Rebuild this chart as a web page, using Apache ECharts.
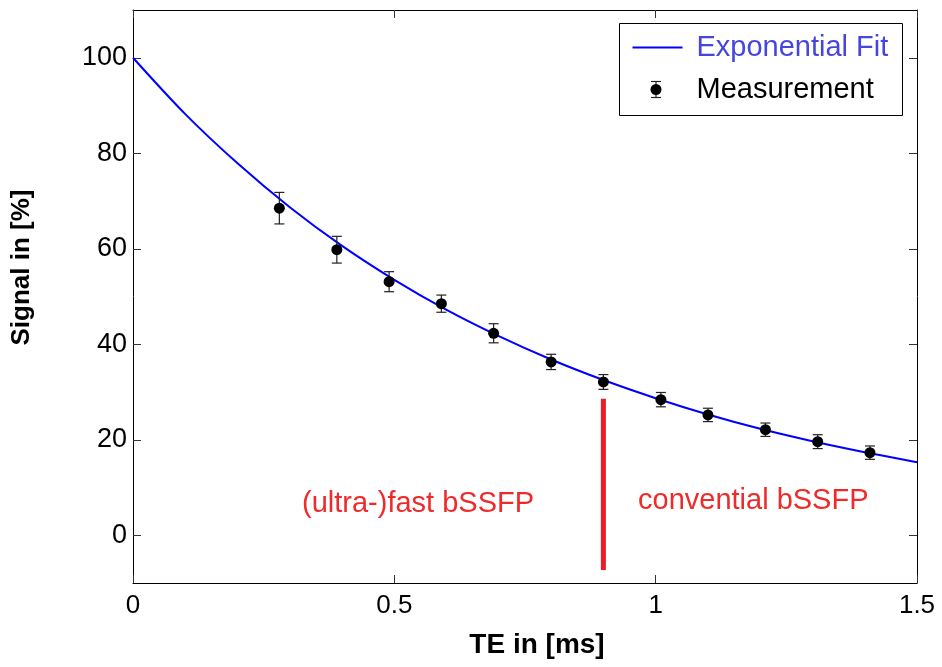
<!DOCTYPE html>
<html>
<head>
<meta charset="utf-8">
<script src="https://cdn.jsdelivr.net/npm/echarts@6/dist/echarts.min.js"></script>
<style>
html,body{margin:0;padding:0;background:#fff;}
#chart{width:942px;height:667px;}
</style>
</head>
<body>
<div id="chart"></div>
<script>
// ---- data ----
const teValues     = [0.28, 0.39, 0.49, 0.59, 0.69, 0.80, 0.90, 1.01, 1.10, 1.21, 1.31, 1.41];
const signalValues = [68.5, 59.8, 53.1, 48.5, 42.3, 36.3, 32.1, 28.4, 25.2, 22.1, 19.6, 17.3];
const signalErrors = [3.3, 2.8, 2.1, 1.8, 2.0, 1.6, 1.55, 1.5, 1.4, 1.4, 1.45, 1.4];
const fitTE        = [0, 0.1, 0.2, 0.3, 0.4, 0.5, 0.6, 0.7, 0.8, 0.9, 1.0, 1.1, 1.2, 1.3, 1.4, 1.5];
const fitSignal    = [100, 88.2, 77.9, 68.7, 60.6, 53.5, 47.2, 41.7, 36.8, 32.5, 28.7, 25.3, 22.3, 19.7, 17.4, 15.3];
const xTicks       = [0, 0.5, 1, 1.5];
const yTicks       = [0, 20, 40, 60, 80, 100];
const yRange       = [-10, 110];
const dividerTE    = 0.9;
const dividerRange = [-7.3, 28.6];
const seriesNames  = ['Exponential Fit', 'Measurement'];
const regionLabels = ['(ultra-)fast bSSFP', 'convential bSSFP'];
const axisNames    = ['TE in [ms]', 'Signal in [%]'];

const FONT = 'Liberation Sans, Arial, sans-serif';
const chart = echarts.init(document.getElementById('chart'), null, {renderer: 'canvas'});

const measData = teValues.map((x, i) => [x, signalValues[i]]);
const errData = teValues.map((x, i) => [x, signalValues[i] - signalErrors[i], signalValues[i] + signalErrors[i]]);
const fitData = fitTE.map((x, i) => [x, fitSignal[i]]);

const tickStyle = {inside: true, length: 8, lineStyle: {color: '#333', width: 1}};
const lineStyleAx = {show: true, onZero: false, lineStyle: {color: '#000', width: 1}};

chart.setOption({
  animation: false,
  backgroundColor: '#fff',
  grid: {left: 133, right: 25, top: 10, bottom: 84, containLabel: false},
  xAxis: [{
    type: 'value', min: xTicks[0], max: xTicks[xTicks.length - 1], interval: 0.5,
    position: 'bottom',
    axisLine: lineStyleAx, axisTick: tickStyle, splitLine: {show: false},
    axisLabel: {color: '#000', fontFamily: FONT, fontSize: 26, margin: 10},
    name: axisNames[0], nameLocation: 'middle', nameGap: 48,
    nameTextStyle: {color: '#000', fontFamily: FONT, fontSize: 28, fontWeight: 'bold', padding: [0, 0, 0, 24]}
  }, {
    type: 'value', min: xTicks[0], max: xTicks[xTicks.length - 1], interval: 0.5,
    position: 'top',
    axisLine: lineStyleAx, axisTick: tickStyle, splitLine: {show: false},
    axisLabel: {show: false}
  }],
  yAxis: [{
    type: 'value', min: yRange[0], max: yRange[1],
    position: 'left',
    axisLine: lineStyleAx,
    axisTick: Object.assign({customValues: yTicks}, tickStyle),
    splitLine: {show: false},
    axisLabel: {customValues: yTicks, color: '#000', fontFamily: FONT, fontSize: 27, margin: 6},
    name: axisNames[1], nameLocation: 'middle', nameGap: 98, nameRotate: 90,
    nameTextStyle: {color: '#000', fontFamily: FONT, fontSize: 26, fontWeight: 'bold', padding: [0, 0, 0, 58]}
  }, {
    type: 'value', min: yRange[0], max: yRange[1],
    position: 'right',
    axisLine: lineStyleAx,
    axisTick: Object.assign({customValues: yTicks}, tickStyle),
    splitLine: {show: false},
    axisLabel: {show: false}
  }],
  series: [{
    name: seriesNames[0], type: 'line', data: fitData, smooth: 0.3,
    showSymbol: false, symbol: 'none', clip: true,
    lineStyle: {color: '#0000ff', width: 2}, z: 2
  }, {
    name: 'divider', type: 'line', data: [[dividerTE, dividerRange[0]], [dividerTE, dividerRange[1]]],
    showSymbol: false, symbol: 'none',
    lineStyle: {color: '#ee1c24', width: 5, cap: 'butt'}, z: 2
  }, {
    name: 'errors', type: 'custom', data: errData,
    encode: {x: 0, y: [1, 2]},
    renderItem: function (params, api) {
      const x = api.value(0);
      const lo = api.coord([x, api.value(1)]);
      const hi = api.coord([x, api.value(2)]);
      const cw = 5;
      const st = {stroke: '#222', lineWidth: 1.2};
      return {
        type: 'group',
        children: [
          {type: 'line', shape: {x1: lo[0], y1: lo[1], x2: hi[0], y2: hi[1]}, style: st},
          {type: 'line', shape: {x1: lo[0] - cw, y1: lo[1], x2: lo[0] + cw, y2: lo[1]}, style: st},
          {type: 'line', shape: {x1: hi[0] - cw, y1: hi[1], x2: hi[0] + cw, y2: hi[1]}, style: st}
        ]
      };
    },
    z: 3
  }, {
    name: seriesNames[1], type: 'scatter', data: measData,
    symbol: 'circle', symbolSize: 11,
    itemStyle: {color: '#000', opacity: 1}, z: 4
  }],
  graphic: [
    {type: 'text', left: 302, top: 489, style: {text: regionLabels[0], fill: '#ee2a2a', font: '29px ' + FONT}, z: 10},
    {type: 'text', left: 638, top: 486, style: {text: regionLabels[1], fill: '#ee2a2a', font: '29px ' + FONT}, z: 10},
    {
      type: 'group', left: 619, top: 23, z: 20,
      children: [
        {type: 'rect', shape: {x: 0, y: 0, width: 283, height: 92}, style: {fill: '#fff', stroke: '#000', lineWidth: 1}},
        {type: 'line', shape: {x1: 13, y1: 24, x2: 63, y2: 24}, style: {stroke: '#0000ff', lineWidth: 2}},
        {type: 'text', x: 77, y: 24, style: {text: seriesNames[0], fill: '#4646dc', font: '29px ' + FONT, verticalAlign: 'middle'}},
        {type: 'line', shape: {x1: 36.5, y1: 58, x2: 36.5, y2: 74}, style: {stroke: '#222', lineWidth: 1.2}},
        {type: 'line', shape: {x1: 31.5, y1: 58, x2: 41.5, y2: 58}, style: {stroke: '#222', lineWidth: 1.2}},
        {type: 'line', shape: {x1: 31.5, y1: 74, x2: 41.5, y2: 74}, style: {stroke: '#222', lineWidth: 1.2}},
        {type: 'circle', shape: {cx: 36.5, cy: 66, r: 5.5}, style: {fill: '#000'}},
        {type: 'text', x: 77, y: 66, style: {text: seriesNames[1], fill: '#000', font: '29px ' + FONT, verticalAlign: 'middle'}}
      ]
    }
  ]
});
</script>
</body>
</html>
